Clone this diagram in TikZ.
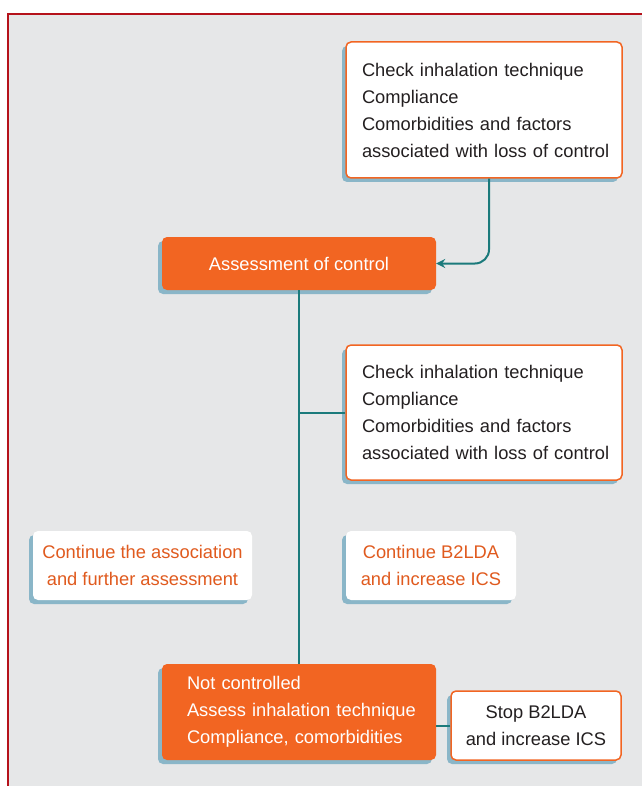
\documentclass[tikz,border=0pt]{standalone}
\usepackage{fontspec}
\setmainfont{Liberation Sans}
\usetikzlibrary{shadows,arrows.meta}
\definecolor{panel}{HTML}{E6E7E8}
\definecolor{frame}{HTML}{B5121B}
\definecolor{orng}{HTML}{F26522}
\definecolor{otext}{HTML}{E05A1E}
\definecolor{teal}{HTML}{1B7A7B}
\definecolor{shad}{HTML}{8AB6C8}
\definecolor{ink}{HTML}{231F20}
\newcommand{\boxfont}{\fontsize{18.3}{27}\selectfont}
\hbadness=10000
\hfuzz=30pt
\tikzset{
  x=1pt, y=-1pt,
  boxbase/.style={rounded corners=5pt, inner ysep=0pt, font={\boxfont},
    drop shadow={shadow xshift=-4pt, shadow yshift=-4pt, fill=shad, opacity=1}},
  whitebox/.style={boxbase, draw=orng, line width=1.5pt, fill=white, text=ink},
  orangebox/.style={boxbase, fill=orng, text=white},
  notebox/.style={boxbase, fill=white, text=otext},
  link/.style={draw=teal, line width=2pt},
}
\begin{document}
\begin{tikzpicture}
\useasboundingbox (0,0) rectangle (642,786);
\fill[white] (0,0) rectangle (642,786);
\fill[panel] (7,13) rectangle (642,786);
\draw[frame, line width=2.5pt] (8.2,786) -- (8.2,14.2) -- (642,14.2);

\node[whitebox, minimum width=276pt, minimum height=136pt, text width=244pt, inner xsep=16pt, align=left]
  (c1) at (484,110) {\mbox{Check inhalation technique}\\Compliance\\\mbox{Comorbidities and factors}\\\mbox{associated with loss of control}};
\node[orangebox, minimum width=274pt, minimum height=53pt, align=center]
  (assess) at (299,263.5) {Assessment of control};
\node[whitebox, minimum width=276pt, minimum height=135pt, text width=244pt, inner xsep=16pt, align=left]
  (c2) at (484,412.5) {\mbox{Check inhalation technique}\\Compliance\\\mbox{Comorbidities and factors}\\\mbox{associated with loss of control}};
\node[notebox, minimum width=219pt, minimum height=69pt, align=center]
  (cont1) at (142.5,565.5) {Continue the association\\and further assessment};
\node[notebox, minimum width=170pt, minimum height=69pt, align=center]
  (cont2) at (431,565.5) {Continue B2LDA\\and increase ICS};
\node[orangebox, minimum width=274pt, minimum height=96pt, text width=224pt, inner xsep=25pt, align=left]
  (notc) at (299,712) {Not controlled\\\mbox{Assess inhalation technique}\\\mbox{Compliance, comorbidities}};
\node[whitebox, minimum width=170pt, minimum height=69pt, align=center]
  (stop) at (536,725.5) {Stop B2LDA\\and increase ICS};

\draw[link, rounded corners=14pt, -{Stealth[length=9pt,width=9pt,inset=3pt]}]
  ([xshift=5pt]c1.south) |- (assess.east);
\draw[link] (assess.south) -- (notc.north);
\draw[link] (c2.west) -- (c2.west -| assess.south);
\draw[link] (stop.west) -- (stop.west -| notc.east);
\end{tikzpicture}
\end{document}
